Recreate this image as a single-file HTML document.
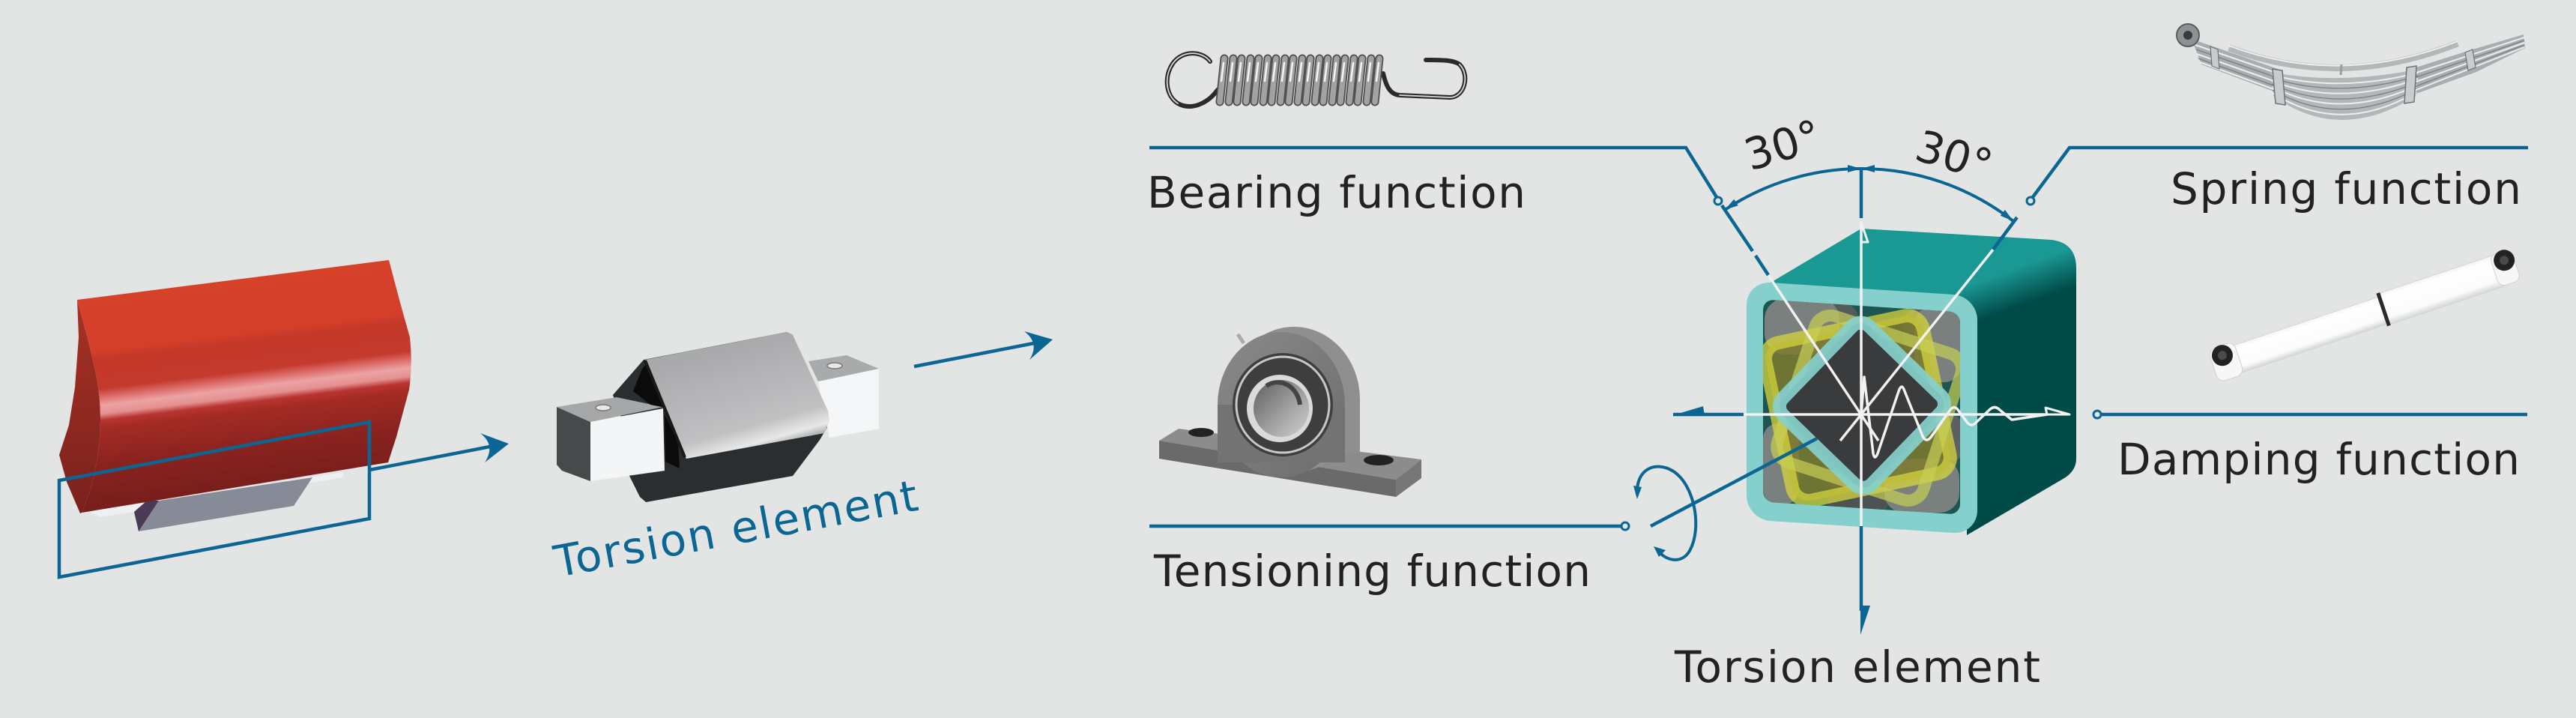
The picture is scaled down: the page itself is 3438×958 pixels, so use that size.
<!DOCTYPE html>
<html><head><meta charset="utf-8"><style>html,body{margin:0;padding:0;background:#e3e5e4;}svg{display:block;}text{font-family:"DejaVu Sans","Liberation Sans",sans-serif;}</style></head>
<body>
<svg xmlns="http://www.w3.org/2000/svg" width="3438" height="958" viewBox="0 0 3438 958">
<defs>
<linearGradient id="redG" gradientUnits="userSpaceOnUse" x1="311" y1="373" x2="345" y2="651">
<stop offset="0" stop-color="#d6412a"/><stop offset="0.26" stop-color="#d43f29"/><stop offset="0.30" stop-color="#c43828"/><stop offset="0.44" stop-color="#c43a2c"/><stop offset="0.48" stop-color="#dc6d6a"/><stop offset="0.52" stop-color="#eba3a3"/><stop offset="0.56" stop-color="#e59090"/><stop offset="0.59" stop-color="#b83430"/><stop offset="0.63" stop-color="#a52b24"/><stop offset="0.8" stop-color="#8a231f"/><stop offset="1" stop-color="#781e1b"/>
</linearGradient>
<linearGradient id="redSide" x1="0" y1="0" x2="0" y2="1"><stop offset="0" stop-color="#a73224"/><stop offset="1" stop-color="#7a211d"/></linearGradient>
<linearGradient id="sleeveG" gradientUnits="userSpaceOnUse" x1="960" y1="470" x2="1000" y2="612"><stop offset="0" stop-color="#a9aaac"/><stop offset="0.72" stop-color="#c0c1c2"/><stop offset="0.88" stop-color="#e8e8e8"/><stop offset="1" stop-color="#8d8e8f"/></linearGradient>
<linearGradient id="cubeG" gradientUnits="userSpaceOnUse" x1="2695" y1="356" x2="2712" y2="403"><stop offset="0" stop-color="#1a9894"/><stop offset="1" stop-color="#004a47"/></linearGradient>
<linearGradient id="tubeG" x1="0" y1="0" x2="0" y2="1"><stop offset="0" stop-color="#f4f4f4"/><stop offset="0.15" stop-color="#ffffff"/><stop offset="0.78" stop-color="#fbfbfb"/><stop offset="1" stop-color="#d3d6d8"/></linearGradient>
<linearGradient id="boreG" x1="0" y1="0" x2="1" y2="1"><stop offset="0" stop-color="#5d5d5d"/><stop offset="0.6" stop-color="#a5a5a5"/><stop offset="1" stop-color="#d0d0d0"/></linearGradient>
<linearGradient id="housG" x1="0" y1="0" x2="1" y2="1"><stop offset="0" stop-color="#8a8a8a"/><stop offset="1" stop-color="#6c6c6c"/></linearGradient>
<clipPath id="innerClip"><rect transform="translate(2331,375) skewY(3.73)" x="22" y="23" width="263" height="270" rx="14"/></clipPath>
</defs>
<rect width="3438" height="958" fill="#e3e5e4"/>

<!-- ===== Left red object ===== -->
<polygon points="118,682 458,630 458,637 134,690" fill="#eef0f4"/>
<polygon points="212,668 417,637 392,675 185,709" fill="#878b97"/>
<polygon points="179,683 196,668 212,668 185,709" fill="#4a3a55"/>
<path d="M103,400 C128,490 134,520 134,560 C134,610 122,655 109,684 L107,685 L89,643 L79,607 L92,567 L100,517 L105,450 Z" fill="url(#redSide)"/>
<path d="M103,400 L519,347 L533,400 L547,450 Q551,487 546,520 L529,583 L518,617 L109,684 C122,655 134,610 134,560 C134,520 128,490 103,400 Z" fill="url(#redG)"/>
<polygon points="79,641 493,563 493,692 79,770" fill="none" stroke="#0b6694" stroke-width="4.5"/>
<line x1="493" y1="627" x2="664" y2="594" stroke="#0b6694" stroke-width="4.5"/>
<path d="M679,592 L641,578 Q662,594 647,617 Z" fill="#0b6694"/>

<!-- ===== Torsion element 3D ===== -->
<polygon points="859,480 818,527 830,560 839,633 854,663 862,670 1058,635 1094,587 1110,560 1098,538 1058,447 1050,443" fill="#2b2e30"/>
<polygon points="1079,482 1130,474 1173,492 1092,509" fill="#a8aaac"/>
<ellipse cx="1114" cy="488" rx="10" ry="4" fill="#e8e8e8" stroke="#777" stroke-width="1.5"/>
<polygon points="1092,509 1173,492 1173,572 1107,584" fill="#f5f6f7"/>
<polygon points="743,543 823,530 885,543 788,563" fill="#a5a7a9"/>
<ellipse cx="805" cy="544" rx="10" ry="4" fill="#e8e8e8" stroke="#777" stroke-width="1.5"/>
<polygon points="743,543 788,563 788,642 750,628 743,620" fill="#47494b"/>
<polygon points="788,563 885,545 887,628 788,642" fill="#f4f5f6"/>
<polygon points="857,492 862,486 893,545 868,540 845,522" fill="#0b0b0b"/>
<polygon points="887,553 905,590 907,625 888,616" fill="#0b0b0b"/>
<polygon points="861,480 1050,443 1058,447 1105,548 1107,562 1100,578 916,612 909,600" fill="url(#sleeveG)"/>
<line x1="861" y1="481" x2="914" y2="610" stroke="#1a1a1a" stroke-width="4"/>
<text x="744" y="770" transform="rotate(-10.5 744 770)" fill="#0b6694" font-size="58" textLength="492">Torsion element</text>
<line x1="1220" y1="489" x2="1390" y2="456" stroke="#0b6694" stroke-width="4.5"/>
<path d="M1405,453 L1367,442 Q1388,458 1374,480 Z" fill="#0b6694"/>

<!-- ===== Coil spring ===== -->
<g fill="none" stroke-linecap="round">
<path d="M1615,82 C1605,68 1578,66 1565,85 C1553,103 1556,128 1572,138 C1590,148 1612,138 1625,120" stroke="#2a2a2a" stroke-width="6"/>
<path d="M1615,82 C1605,68 1578,66 1565,85 C1553,103 1556,128 1572,138" stroke="#d8d8d8" stroke-width="1.8"/>
<path d="M1846,98 C1850,115 1855,126 1868,127 L1935,130 C1955,130 1962,100 1948,86 C1940,80 1925,80 1903,80" stroke="#2a2a2a" stroke-width="6"/>
<path d="M1868,127 L1935,130 C1955,130 1962,100 1948,86" stroke="#d8d8d8" stroke-width="1.8"/>
<g stroke="#4e4e4e" stroke-width="11">
<line x1="1634" y1="78" x2="1628" y2="136"/><line x1="1646" y1="78" x2="1640" y2="136"/><line x1="1657" y1="78" x2="1651" y2="136"/><line x1="1669" y1="78" x2="1663" y2="136"/><line x1="1680" y1="78" x2="1674" y2="136"/><line x1="1692" y1="78" x2="1686" y2="136"/><line x1="1703" y1="78" x2="1697" y2="136"/><line x1="1715" y1="78" x2="1709" y2="136"/><line x1="1726" y1="78" x2="1720" y2="136"/><line x1="1738" y1="78" x2="1732" y2="136"/><line x1="1749" y1="78" x2="1743" y2="136"/><line x1="1761" y1="78" x2="1755" y2="136"/><line x1="1772" y1="78" x2="1766" y2="136"/><line x1="1784" y1="78" x2="1778" y2="136"/><line x1="1795" y1="78" x2="1789" y2="136"/><line x1="1807" y1="78" x2="1801" y2="136"/><line x1="1818" y1="78" x2="1812" y2="136"/><line x1="1830" y1="78" x2="1824" y2="136"/><line x1="1841" y1="78" x2="1835" y2="136"/>
</g>
<g stroke="#a2a2a2" stroke-width="7.5">
<line x1="1634" y1="78" x2="1628" y2="136"/><line x1="1646" y1="78" x2="1640" y2="136"/><line x1="1657" y1="78" x2="1651" y2="136"/><line x1="1669" y1="78" x2="1663" y2="136"/><line x1="1680" y1="78" x2="1674" y2="136"/><line x1="1692" y1="78" x2="1686" y2="136"/><line x1="1703" y1="78" x2="1697" y2="136"/><line x1="1715" y1="78" x2="1709" y2="136"/><line x1="1726" y1="78" x2="1720" y2="136"/><line x1="1738" y1="78" x2="1732" y2="136"/><line x1="1749" y1="78" x2="1743" y2="136"/><line x1="1761" y1="78" x2="1755" y2="136"/><line x1="1772" y1="78" x2="1766" y2="136"/><line x1="1784" y1="78" x2="1778" y2="136"/><line x1="1795" y1="78" x2="1789" y2="136"/><line x1="1807" y1="78" x2="1801" y2="136"/><line x1="1818" y1="78" x2="1812" y2="136"/><line x1="1830" y1="78" x2="1824" y2="136"/><line x1="1841" y1="78" x2="1835" y2="136"/>
</g>
<g stroke="#f4f4f4" stroke-width="2.5">
<line x1="1633" y1="84" x2="1630" y2="108"/><line x1="1645" y1="84" x2="1642" y2="108"/><line x1="1656" y1="84" x2="1653" y2="108"/><line x1="1668" y1="84" x2="1665" y2="108"/><line x1="1679" y1="84" x2="1676" y2="108"/><line x1="1691" y1="84" x2="1688" y2="108"/><line x1="1702" y1="84" x2="1699" y2="108"/><line x1="1714" y1="84" x2="1711" y2="108"/><line x1="1725" y1="84" x2="1722" y2="108"/><line x1="1737" y1="84" x2="1734" y2="108"/><line x1="1748" y1="84" x2="1745" y2="108"/><line x1="1760" y1="84" x2="1757" y2="108"/><line x1="1771" y1="84" x2="1768" y2="108"/><line x1="1783" y1="84" x2="1780" y2="108"/><line x1="1794" y1="84" x2="1791" y2="108"/><line x1="1806" y1="84" x2="1803" y2="108"/><line x1="1817" y1="84" x2="1814" y2="108"/><line x1="1829" y1="84" x2="1826" y2="108"/><line x1="1840" y1="84" x2="1837" y2="108"/>
</g>
</g>

<!-- ===== Leaf spring ===== -->
<path d="M2925,52 L3040,92 L3040,124 L2938,86 Z" fill="#a9adb1"/>
<path d="M3218,92 L3300,66 L3368,46 L3370,64 L3305,96 L3222,126 Z" fill="#a9adb1"/>
<path d="M3030,96 Q3123,114 3228,92 L3224,128 Q3123,192 3034,128 Z" fill="#b3b7ba"/>
<g fill="none" stroke-width="2">
<path d="M3032,100 Q3123,124 3227,97" stroke="#eceded"/>
<path d="M3032,104 Q3123,133 3227,101" stroke="#7c8084" stroke-width="1.3"/>
<path d="M3032,108 Q3123,143 3227,105" stroke="#eceded"/>
<path d="M3032,112 Q3123,153 3226,110" stroke="#7c8084" stroke-width="1.3"/>
<path d="M3033,116 Q3123,162 3226,114" stroke="#eceded"/>
<path d="M3033,120 Q3123,172 3225,119" stroke="#7c8084" stroke-width="1.3"/>
<path d="M3033,124 Q3123,182 3225,123" stroke="#eceded"/>
<path d="M2930,60 L3040,98" stroke="#eceded"/><path d="M2931,66 L3040,104" stroke="#7c8084" stroke-width="1.3"/>
<path d="M2932,72 L3040,110" stroke="#eceded"/><path d="M2934,78 L3040,116" stroke="#7c8084" stroke-width="1.3"/>
<path d="M2936,83 L3040,121" stroke="#eceded"/>
<path d="M3222,98 L3369,50" stroke="#eceded"/><path d="M3222,104 L3369,54" stroke="#7c8084" stroke-width="1.3"/>
<path d="M3222,110 L3369,57" stroke="#eceded"/><path d="M3222,116 L3369,60" stroke="#7c8084" stroke-width="1.3"/>
<path d="M3222,121 L3369,63" stroke="#eceded"/>
</g>
<path d="M2975,64 Q3123,120 3280,58" fill="none" stroke="#b5b8bb" stroke-width="9"/>
<path d="M2975,61 Q3123,117 3280,55" fill="none" stroke="#f0f0f0" stroke-width="2"/>
<polygon points="3033,92 3046,94 3050,140 3037,138" fill="#c9ccce" stroke="#6f7275" stroke-width="1.5"/>
<polygon points="3212,90 3225,88 3222,136 3209,138" fill="#c9ccce" stroke="#6f7275" stroke-width="1.5"/>
<polygon points="2950,62 2960,66 2962,92 2952,88" fill="#c9ccce" stroke="#6f7275" stroke-width="1.2"/>
<polygon points="3290,70 3300,66 3304,90 3294,94" fill="#c9ccce" stroke="#6f7275" stroke-width="1.2"/>
<line x1="3124" y1="100" x2="3125" y2="86" stroke="#9a9da0" stroke-width="3"/>
<circle cx="2920" cy="47" r="15" fill="#8d9094" stroke="#5a5d60" stroke-width="2"/>
<circle cx="2920" cy="47" r="6" fill="#3a3a3a"/>

<!-- ===== Bearing block ===== -->
<polygon points="1547,588 1573,572 1897,613 1863,640" fill="#8c8c8c"/>
<polygon points="1547,588 1863,640 1863,663 1547,612" fill="#6a6a6a"/>
<polygon points="1863,640 1897,613 1897,638 1863,663" fill="#777"/>
<ellipse cx="1603" cy="577" rx="17" ry="6" fill="#222"/>
<ellipse cx="1840" cy="614" rx="20" ry="7" fill="#222"/>
<ellipse cx="1727" cy="533" rx="88" ry="97" fill="#8f8f8f"/>
<rect x="1640" y="533" width="175" height="72" fill="#8f8f8f"/>
<ellipse cx="1710" cy="540" rx="85" ry="97" fill="url(#housG)"/>
<rect x="1625" y="540" width="170" height="77" fill="#737373"/>
<ellipse cx="1712" cy="540" rx="67" ry="69" fill="#3e3e3e"/>
<ellipse cx="1712" cy="540" rx="62" ry="64" fill="none" stroke="#c8c8c8" stroke-width="3"/>
<ellipse cx="1708" cy="545" rx="44" ry="45" fill="#dadada"/>
<ellipse cx="1710" cy="545" rx="37" ry="38" fill="url(#boreG)"/>
<path d="M1690,515 A30 35 0 0 1 1735,540" fill="none" stroke="#444" stroke-width="6"/>
<line x1="1652" y1="446" x2="1660" y2="458" stroke="#aaa" stroke-width="5"/>

<!-- ===== Shock absorber ===== -->
<g transform="rotate(-18.5 3155 412)">
<rect x="2962" y="403" width="222" height="38" fill="url(#tubeG)" stroke="#d2d5d7" stroke-width="1"/>
<rect x="3180" y="399" width="165" height="44" rx="6" fill="url(#tubeG)" stroke="#d2d5d7" stroke-width="1"/>
<rect x="3177" y="398" width="5" height="46" fill="#2a2a2a"/>
<rect x="2940" y="398" width="36" height="46" rx="10" fill="#f7f7f7" stroke="#d0d0d0" stroke-width="1"/>
<circle cx="2956" cy="411" r="14" fill="#222"/><circle cx="2956" cy="411" r="6" fill="#4a4a4a"/>
<rect x="3336" y="398" width="30" height="44" rx="9" fill="#f7f7f7" stroke="#d0d0d0" stroke-width="1"/>
<circle cx="3353" cy="410" r="14" fill="#222"/><circle cx="3353" cy="410" r="6" fill="#4a4a4a"/>
</g>

<!-- ===== Central cube ===== -->
<path d="M2333,395 L2484,305 L2738,320 Q2771,324 2771,358 L2771,612 Q2771,628 2755,638 L2625,714 L2625,400 Z" fill="url(#cubeG)"/>
<rect transform="translate(2331,375) skewY(3.73)" x="0" y="0" width="308" height="318" rx="32" fill="#85cfcc"/>
<rect transform="translate(2331,375) skewY(3.73)" x="22" y="23" width="263" height="270" rx="14" fill="#1d5553"/>
<g clip-path="url(#innerClip)">
<rect x="2420" y="405" width="60" height="50" rx="20" fill="#555b5a"/>
<rect x="2355" y="398" width="100" height="75" rx="28" fill="#79807e"/>
<rect x="2540" y="412" width="45" height="60" rx="18" fill="#5b6160"/>
<rect x="2555" y="410" width="62" height="100" rx="22" fill="#79807e"/>
<rect x="2353" y="565" width="48" height="108" rx="20" fill="#79807e"/>
<rect x="2440" y="630" width="80" height="60" rx="20" fill="#4c5352"/>
<rect x="2515" y="612" width="100" height="72" rx="26" fill="#79807e"/>
<rect x="2585" y="555" width="35" height="60" rx="14" fill="#5b6160"/>
<rect x="2372" y="437" width="215" height="215" rx="22" transform="rotate(-12 2480 545)" fill="#7d7a2e" fill-opacity="0.85" stroke="#d6d43c" stroke-width="18" stroke-opacity="0.75"/>
<rect x="2392" y="442" width="205" height="205" rx="22" transform="rotate(18 2495 545)" fill="none" stroke="#c8cf55" stroke-width="16" stroke-opacity="0.7"/>
<rect x="2403" y="458" width="165" height="165" rx="16" transform="rotate(44 2485 540)" fill="#3a3b3c" stroke="#86d0cc" stroke-width="18" stroke-opacity="0.92"/>
</g>

<!-- white lines in cube -->
<g stroke="#f2f2f2" stroke-width="3.5" fill="none" stroke-linejoin="round">
<line x1="2484" y1="297" x2="2484" y2="702"/>
<line x1="2327" y1="553" x2="2732" y2="553"/>
<line x1="2360" y1="367" x2="2507" y2="588"/>
<line x1="2660" y1="333" x2="2456" y2="588"/>
<path d="M2484,553 L2488,503 L2500,605 Q2502,615 2506,605 L2534,522 Q2538,510 2542,522 L2566,582 Q2571,592 2578,582 L2602,548 Q2608,539 2614,548 L2625,563 Q2631,571 2638,563 L2655,547 Q2662,540 2669,547 L2685,560 L2732,553"/>
<polygon points="2730,544 2732,553 2762,553" stroke-width="3"/>
<polygon points="2484,297 2493,323 2484,323" stroke-width="3"/>
</g>

<!-- blue dimension lines -->
<g stroke="#0b6694" stroke-width="4.5" fill="none">
<line x1="2484" y1="223" x2="2484" y2="291"/>
<path d="M2302,280 A330 330 0 0 1 2484,225 A330 330 0 0 1 2687,295" stroke-width="4"/>
<line x1="2298" y1="274" x2="2339" y2="335"/>
<line x1="2343" y1="341" x2="2360" y2="367"/>
<line x1="2692" y1="290" x2="2660" y2="333"/>
<line x1="2233" y1="553" x2="2327" y2="553"/>
<line x1="2484" y1="702" x2="2484" y2="815"/>
<line x1="2203" y1="702" x2="2425" y2="585"/>
<path d="M2185,660 C2183,625 2210,615 2232,628 C2262,646 2272,705 2255,735 C2245,752 2225,750 2212,734" stroke-width="4"/>
<polyline points="1534,197 2250,197 2291,263"/>
<polyline points="3374,197 2762,197 2713,263"/>
<line x1="2804" y1="553" x2="3373" y2="553"/>
<line x1="1534" y1="702" x2="2164" y2="702"/>
</g>
<g fill="#0b6694">
<polygon points="2302,280 2319.8,274.3 2314.2,265.9"/>
<polygon points="2484,225 2466,220 2466,230"/>
<polygon points="2484,225 2502,220 2502,230"/>
<polygon points="2687,295 2669.7,287.8 2675.9,280"/>
<polygon points="2233,554 2273,542 2275,554"/>
<polygon points="2483,808 2496,808 2483,847"/>
<polygon points="2180,648 2191,650 2185,666"/>
<polygon points="2207,729 2223,734 2214,743"/>
</g>
<g fill="#e3e5e4" stroke="#0b6694" stroke-width="3">
<circle cx="2293" cy="268" r="5"/>
<circle cx="2710" cy="268" r="5"/>
<circle cx="2799" cy="553" r="5"/>
<circle cx="2169" cy="702" r="5"/>
</g>

<!-- labels -->
<g fill="#222" font-size="58">
<text x="1531" y="277" textLength="505">Bearing function</text>
<text x="1540" y="782" textLength="583">Tensioning function</text>
<text x="2897" y="272" textLength="468">Spring function</text>
<text x="2826" y="633" textLength="537">Damping function</text>
<text x="2235" y="910" textLength="488">Torsion element</text>
<text x="2336" y="228" transform="rotate(-17 2336 228)">30°</text>
<text x="2553" y="212" transform="rotate(17 2553 212)">30°</text>
</g>
</svg>
</body></html>
